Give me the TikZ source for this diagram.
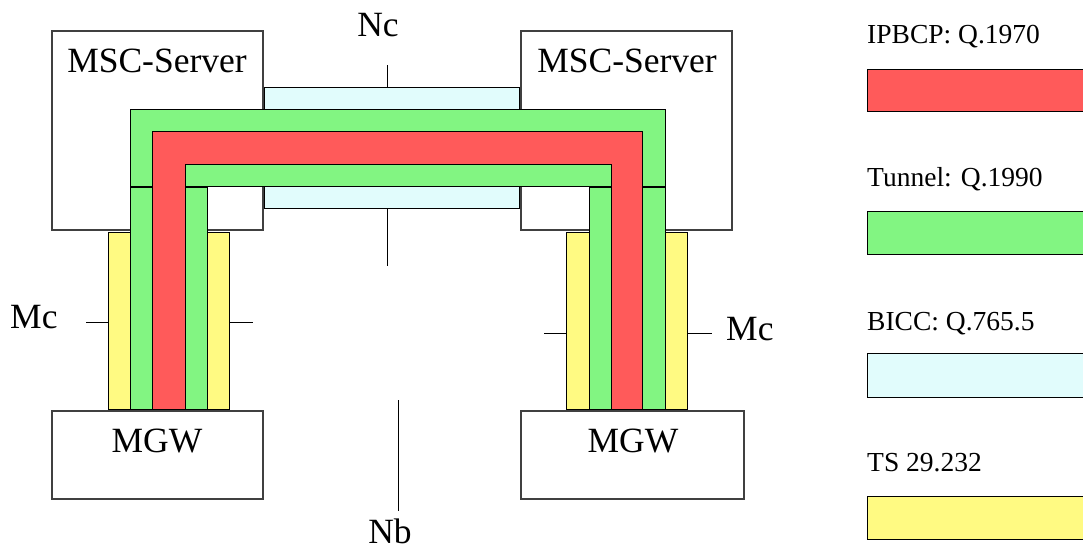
\documentclass[tikz,border=0pt]{standalone}
\usepackage{fontspec}
\setmainfont{Liberation Serif}
\definecolor{ipbcp}{RGB}{255,90,90}
\definecolor{tunnel}{RGB}{130,245,130}
\definecolor{bicc}{RGB}{225,252,252}
\definecolor{tsyel}{RGB}{255,250,130}
\begin{document}
\begin{tikzpicture}[
		x=1pt, y=-1pt,
		every node/.style={inner sep=0pt, font=\fontsize{35.5pt}{40pt}\selectfont},
		entity/.style={draw=black!75, line width=1.4pt, fill=white},
		band/.style={draw=black, line width=1pt},
		legend/.style={anchor=base west, font=\fontsize{27.5pt}{32pt}\selectfont}
		]
		\useasboundingbox (0,0) rectangle (1083,551);
		\clip (0,0) rectangle (1083,551);
		
		% Netzelemente
		\draw [entity] (52,31) rectangle (263,230);
		\draw [entity] (521,31) rectangle (732,230);
		\draw [entity] (52,411) rectangle (263,499);
		\draw [entity] (521,411) rectangle (744,499);
		
		% Schnittstellen
		\draw [line width=1pt] (387,65) -- (387,87);
		\draw [line width=1pt] (387,208) -- (387,266);
		\draw [line width=1pt] (398,400) -- (398,511);
		\draw [line width=1pt] (86,322) -- (108,322);
		\draw [line width=1pt] (229,322) -- (253,322);
		\draw [line width=1pt] (544,333) -- (566,333);
		\draw [line width=1pt] (687,333) -- (712,333);
		
		% Protokollschichten
		\draw [band, fill=bicc] (264,87) rectangle (519,208);
		\draw [band, fill=tsyel] (108,232) rectangle (229,409);
		\draw [band, fill=tsyel] (566,232) rectangle (687,409);
		\draw [band, fill=tunnel] (130,187) rectangle (207,409);
		\draw [band, fill=tunnel] (589,187) rectangle (665,409);
		\draw [band, fill=tunnel] (130,109) rectangle (665,186);
		\draw [band, fill=ipbcp] (152,131) -- (642,131) -- (642,409) -- (611,409)
			-- (611,164) -- (185,164) -- (185,409) -- (152,409) -- cycle;
		
		% Beschriftungen
		\node (mscl) [anchor=base] at (157,72) {MSC-Server};
		\node (mscr) [anchor=base] at (627,72) {MSC-Server};
		\node (mgwl) [anchor=base] at (157,452) {MGW};
		\node (mgwr) [anchor=base] at (633,452) {MGW};
		\node (nc) [anchor=base] at (378,37) {Nc};
		\node (nb) [anchor=base] at (390,543) {Nb};
		\node (mcl) [anchor=base west] at (10,328) {Mc};
		\node (mcr) [anchor=base west] at (726,340) {Mc};
		
		% Legende
		\node (lipbcp) [legend] at (867,44) {IPBCP: Q.1970};
		\draw [band, fill=ipbcp] (867,69) rectangle (1095,111);
		\node (ltunnel) [legend] at (867,186) {Tunnel: Q.1990};
		\draw [band, fill=tunnel] (867,211) rectangle (1095,254);
		\node (lbicc) [legend] at (867,330) {BICC: Q.765.5};
		\draw [band, fill=bicc] (867,353) rectangle (1095,397);
		\node (lts) [legend] at (867,471) {TS 29.232};
		\draw [band, fill=tsyel] (867,496) rectangle (1095,539);
		
	\end{tikzpicture}
\end{document}
